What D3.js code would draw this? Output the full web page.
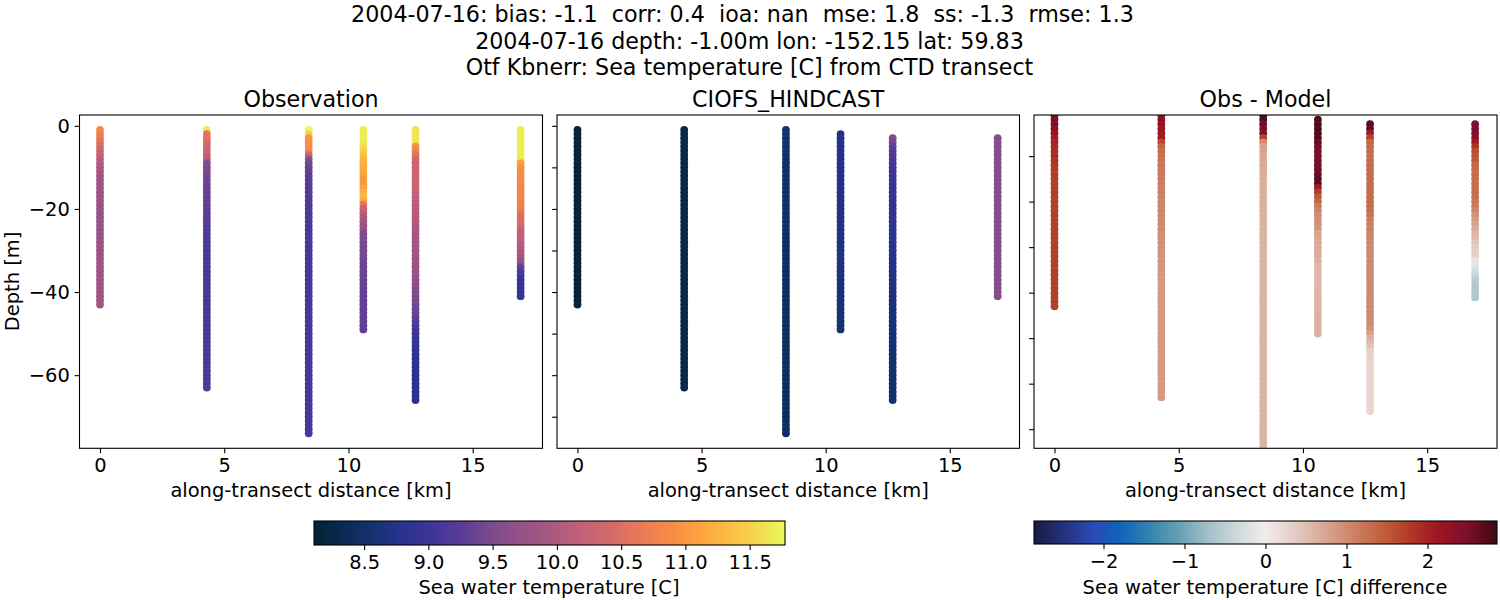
<!DOCTYPE html>
<html>
<head>
<meta charset="utf-8">
<script src="https://cdn.jsdelivr.net/npm/d3@7"></script>
<style>
  body { margin: 0; background: white; }
  svg text { font-family: "DejaVu Sans", sans-serif; fill: black; white-space: pre; }
</style>
</head>
<body>
<svg id="fig" width="1500" height="600"></svg>
<script>
// first line has trailing blanks in the original title, which pushes it left
var titleLines = [
  "2004-07-16: bias: -1.1  corr: 0.4  ioa: nan  mse: 1.8  ss: -1.3  rmse: 1.3  ",
  "2004-07-16 depth: -1.00m lon: -152.15 lat: 59.83",
  "Otf Kbnerr: Sea temperature [C] from CTD transect"
];
var panelTitles = ["Observation", "CIOFS_HINDCAST", "Obs - Model"];

// along-transect distance of each CTD cast [km]
var stations = [0, 4.3, 8.4, 10.6, 12.7, 16.93];
var obsFirstDepth = [1, 1, 1, 1, 1, 1];
var modFirstDepth = [1, 1, 1, 2, 3, 3];

// observed temperature per cast, 1 m bins from the surface
var obs0 = [10.85,10.75,10.65,10.55,10.45,10.35,10.25,10.15,10.1,10.0,9.95,9.9,9.85,9.85,9.85,9.8,9.8,9.8,9.78,9.78,9.75,9.75,9.75,9.75,9.75,9.75,9.78,9.78,9.8,9.8,9.8,9.8,9.8,9.82,9.82,9.82,9.85,9.85,9.85,9.85,9.85,9.85,9.85];
var obs1 = [11.7,10.6,10.55,10.45,10.35,10.3,10.2,10.1,9.6,9.5,9.5,9.45,9.42,9.4,9.38,9.35,9.35,9.32,9.3,9.3,9.28,9.26,9.24,9.22,9.2,9.2,9.18,9.18,9.16,9.16,9.15,9.15,9.14,9.14,9.13,9.13,9.12,9.12,9.12,9.12,9.12,9.12,9.12,9.12,9.13,9.13,9.13,9.13,9.14,9.14,9.14,9.14,9.15,9.15,9.15,9.15,9.15,9.15,9.16,9.16,9.16,9.18,9.2];
var obs2 = [11.75,11.5,11.0,10.95,10.9,10.85,10.3,9.65,9.45,9.38,9.34,9.3,9.28,9.26,9.24,9.22,9.2,9.2,9.18,9.18,9.16,9.16,9.15,9.15,9.14,9.14,9.13,9.13,9.12,9.12,9.12,9.12,9.12,9.12,9.12,9.12,9.12,9.12,9.12,9.12,9.12,9.12,9.12,9.12,9.12,9.12,9.12,9.12,9.12,9.12,9.12,9.12,9.12,9.12,9.12,9.12,9.12,9.12,9.12,9.12,9.12,9.12,9.12,9.12,9.12,9.12,9.12,9.12,9.12,9.12,9.12,9.12,9.12,9.12];
var obs3 = [11.7,11.7,11.7,11.7,11.6,11.5,11.4,11.3,11.25,11.2,11.15,11.1,11.0,11.0,11.1,11.25,11.3,11.2,10.6,10.3,10.15,10.0,9.95,9.8,9.7,9.55,9.5,9.5,9.48,9.45,9.45,9.45,9.42,9.4,9.4,9.38,9.38,9.36,9.35,9.34,9.33,9.32,9.3,9.3,9.3,9.3,9.3,9.3,9.3];
var obs4 = [11.65,11.65,11.65,11.65,10.95,10.8,10.6,10.4,10.32,10.3,10.3,10.3,10.28,10.28,10.25,10.22,10.2,10.15,10.12,10.1,10.08,10.05,10.02,10.0,9.98,9.95,9.92,9.9,9.9,9.88,9.86,9.84,9.82,9.8,9.8,9.78,9.72,9.68,9.62,9.58,9.54,9.5,9.46,9.42,9.38,9.32,9.25,9.18,9.1,9.02,8.98,8.95,8.92,8.88,8.86,8.84,8.82,8.8,8.8,8.8,8.8,8.8,8.8,8.8,8.8,8.8];
var obs5 = [11.7,11.7,11.7,11.7,11.7,11.7,11.7,11.7,11.1,10.95,10.9,10.88,10.86,10.85,10.83,10.82,10.8,10.78,10.76,10.75,10.6,10.48,10.45,10.42,10.25,10.2,10.15,10.1,10.05,10.0,9.95,9.85,9.8,9.35,9.2,9.1,8.97,8.95,8.93,8.92,8.9];
var obsValues = [obs0, obs1, obs2, obs3, obs4, obs5];

// model temperature per cast
var mod0 = [8.15,8.15,8.15,8.15,8.15,8.15,8.15,8.15,8.15,8.15,8.15,8.15,8.15,8.15,8.15,8.15,8.15,8.15,8.15,8.15,8.15,8.15,8.15,8.15,8.15,8.15,8.15,8.15,8.15,8.15,8.15,8.15,8.15,8.15,8.15,8.15,8.15,8.15,8.15,8.15,8.15,8.15,8.15];
var mod1 = [8.27,8.27,8.27,8.27,8.27,8.27,8.27,8.27,8.27,8.27,8.27,8.27,8.27,8.27,8.27,8.27,8.27,8.27,8.27,8.27,8.28,8.28,8.28,8.28,8.28,8.28,8.28,8.28,8.28,8.28,8.28,8.28,8.28,8.28,8.28,8.28,8.28,8.28,8.28,8.28,8.28,8.28,8.28,8.28,8.28,8.28,8.28,8.28,8.28,8.28,8.28,8.28,8.28,8.28,8.28,8.28,8.28,8.28,8.28,8.28,8.28,8.28,8.28];
var mod2 = [8.6,8.6,8.58,8.58,8.56,8.56,8.55,8.54,8.53,8.52,8.52,8.52,8.5,8.5,8.5,8.5,8.5,8.5,8.5,8.5,8.5,8.5,8.5,8.5,8.5,8.48,8.48,8.48,8.48,8.48,8.48,8.48,8.48,8.48,8.48,8.48,8.48,8.48,8.48,8.48,8.46,8.46,8.46,8.46,8.46,8.46,8.46,8.46,8.46,8.46,8.46,8.46,8.46,8.46,8.46,8.45,8.45,8.45,8.45,8.45,8.45,8.45,8.45,8.45,8.45,8.45,8.45,8.45,8.45,8.45,8.45,8.45,8.45,8.45];
var mod3 = [8.75,8.75,8.75,8.75,8.75,8.75,8.75,8.75,8.74,8.74,8.74,8.74,8.74,8.74,8.74,8.72,8.72,8.72,8.72,8.72,8.72,8.72,8.72,8.72,8.72,8.7,8.7,8.7,8.7,8.7,8.7,8.68,8.68,8.68,8.68,8.66,8.66,8.66,8.65,8.65,8.64,8.62,8.62,8.6,8.6,8.6,8.6,8.6];
var mod4 = [9.55,9.45,9.35,9.25,9.2,9.15,9.1,9.05,9.02,9.0,8.98,8.96,8.94,8.92,8.9,8.9,8.88,8.88,8.87,8.86,8.85,8.85,8.85,8.84,8.83,8.82,8.81,8.8,8.78,8.76,8.74,8.73,8.72,8.71,8.7,8.69,8.68,8.67,8.66,8.65,8.64,8.63,8.62,8.62,8.61,8.61,8.6,8.6,8.6,8.6,8.59,8.59,8.58,8.58,8.58,8.58,8.58,8.58,8.57,8.57,8.57,8.57,8.57,8.57];
var mod5 = [9.6,9.6,9.6,9.6,9.6,9.6,9.6,9.6,9.6,9.6,9.6,9.6,9.6,9.6,9.6,9.6,9.6,9.6,9.6,9.6,9.6,9.6,9.6,9.6,9.6,9.6,9.6,9.6,9.6,9.6,9.6,9.6,9.6,9.6,9.6,9.6,9.6,9.6,9.6];
var modValues = [mod0, mod1, mod2, mod3, mod4, mod5];

// obs minus model per cast
var dif0 = [2.45,2.45,2.45,2.4,2.2,2.1,2.0,1.95,1.9,1.9,1.85,1.8,1.8,1.75,1.75,1.72,1.72,1.72,1.72,1.72,1.72,1.72,1.72,1.72,1.72,1.72,1.72,1.72,1.72,1.72,1.72,1.72,1.72,1.72,1.72,1.72,1.72,1.72,1.72,1.72,1.72,1.72,1.72];
var dif1 = [2.35,2.3,2.2,2.15,2.1,2.1,1.65,1.4,1.3,1.25,1.2,1.2,1.18,1.16,1.15,1.14,1.12,1.1,1.08,1.06,1.05,1.05,1.03,1.02,1.0,0.98,0.97,0.95,0.94,0.93,0.92,0.9,0.9,0.88,0.87,0.86,0.85,0.85,0.85,0.85,0.85,0.85,0.85,0.85,0.85,0.85,0.85,0.85,0.85,0.85,0.85,0.85,0.85,0.85,0.85,0.85,0.85,0.85,0.85,0.85,0.85,0.85,0.85];
var dif2 = [2.8,2.75,2.55,2.5,2.45,1.7,1.0,0.78,0.75,0.72,0.7,0.7,0.68,0.68,0.66,0.66,0.65,0.65,0.65,0.65,0.64,0.64,0.63,0.63,0.62,0.62,0.62,0.62,0.62,0.62,0.6,0.6,0.6,0.6,0.6,0.6,0.6,0.6,0.6,0.6,0.6,0.6,0.6,0.6,0.6,0.6,0.6,0.6,0.6,0.6,0.6,0.6,0.6,0.6,0.6,0.6,0.6,0.6,0.6,0.6,0.6,0.6,0.6,0.6,0.6,0.6,0.6,0.6,0.6,0.6,0.6,0.6,0.6,0.6];
var dif3 = [2.75,2.75,2.75,2.75,2.72,2.6,2.55,2.5,2.5,2.5,2.5,2.52,2.6,2.65,2.65,2.1,1.75,1.5,1.4,1.15,1.1,0.98,0.95,0.92,0.9,0.75,0.72,0.7,0.68,0.68,0.66,0.65,0.58,0.55,0.55,0.55,0.56,0.56,0.58,0.58,0.6,0.6,0.6,0.62,0.62,0.62,0.62,0.62];
var dif4 = [2.65,2.65,2.1,1.75,1.35,1.32,1.3,1.3,1.3,1.3,1.3,1.3,1.3,1.3,1.3,1.3,1.3,1.3,1.3,1.28,1.22,1.15,1.1,1.08,1.06,1.05,1.03,1.02,1.0,1.0,1.0,1.0,1.0,1.0,1.0,1.0,1.0,1.0,1.0,1.0,1.0,1.0,1.0,1.0,1.0,0.95,0.8,0.65,0.55,0.45,0.35,0.3,0.28,0.27,0.26,0.25,0.25,0.25,0.25,0.25,0.25,0.25,0.25,0.25];
var dif5 = [2.45,2.45,2.45,2.42,2.1,1.85,1.6,1.55,1.5,1.35,1.32,1.3,1.3,1.3,1.3,1.3,1.28,1.22,1.15,1.05,0.95,0.85,0.75,0.68,0.6,0.55,0.45,0.38,0.35,0.35,0.1,-0.1,-0.25,-0.35,-0.5,-0.55,-0.6,-0.6,-0.6];
var difValues = [dif0, dif1, dif2, dif3, dif4, dif5];

// cmocean thermal / balance, sampled from the colourbars
var thermalStops = ["#042333","#0a2b52","#15306f","#2a3390","#3e3599","#5a3c96","#7a4a8e","#94528a","#a8587f","#c0607a","#d26a6b","#e8775a","#f68a47","#fca03f","#fcbb41","#f6d64f","#e8fa5b"];
var balanceStops = ["#181c43","#24307c","#2b48b4","#0f65ba","#3583ae","#66a0b2","#a0bfc8","#ced8db","#f1ecec","#e4cdc5","#d9a894","#cd8468","#c2603e","#b03a25","#9c1525","#7a0f2a","#3c0911"];

var depthTicks = [0, -20, -40, -60];
var depthMinor = [0, -10, -20, -30, -40, -50, -60, -70];
var diffDepthTicks = [-10, -20, -30, -40, -50, -60, -70];
var distTicks = [0, 5, 10, 15];
var tempTicks = [8.5, 9, 9.5, 10, 10.5, 11, 11.5];
var diffTicks = [-2, -1, 0, 1, 2];
var tempRange = [8.11, 11.775];
var diffRange = [-2.858, 2.858];

var svg = d3.select("#fig");
var minus = s => String(s).replace("-", "\u2212");
var top_ = 115, bottom = 448.3;
var labelSize = "19.44px", titleSize = "22.2px";

var thermal = d3.scaleLinear().domain(d3.range(17).map(i => tempRange[0] + (tempRange[1] - tempRange[0]) * i / 16)).range(thermalStops).clamp(true);
var balance = d3.scaleLinear().domain(d3.range(17).map(i => diffRange[0] + (diffRange[1] - diffRange[0]) * i / 16)).range(balanceStops).clamp(true);

svg.append("g").selectAll("text").data(titleLines).enter().append("text")
  .attr("x", 749.5).attr("y", (d, i) => 22.3 + i * 26.5)
  .attr("text-anchor", "middle").style("font-size", titleSize).text(d => d);

var panels = [
  { left: 79.5, right: 542.5, values: obsValues, first: obsFirstDepth, color: thermal, yDomain: [2.6, -77.6], ticks: depthTicks, labels: true },
  { left: 557, right: 1019.5, values: modValues, first: modFirstDepth, color: thermal, yDomain: [2.6, -77.6], ticks: depthMinor, labels: false },
  { left: 1034, right: 1497, values: difValues, first: modFirstDepth, color: balance, yDomain: [-0.97, -74.2], ticks: diffDepthTicks, labels: false }
];

panels.forEach(function (p, n) {
  var x = d3.scaleLinear().domain([-0.825, 17.81]).range([p.left, p.right]);
  var y = d3.scaleLinear().domain(p.yDomain).range([top_, bottom]);
  var g = svg.append("g");

  g.append("clipPath").attr("id", "clip" + n).append("rect")
    .attr("x", p.left).attr("y", top_).attr("width", p.right - p.left).attr("height", bottom - top_);

  var dots = g.append("g").attr("clip-path", "url(#clip" + n + ")");
  stations.forEach(function (km, s) {
    // deeper samples sit on top of the shallower ones
    dots.append("g").selectAll("circle").data(p.values[s]).enter().append("circle")
      .attr("cx", x(km))
      .attr("cy", (d, i) => y(-(p.first[s] + i)))
      .attr("r", 3.9)
      .attr("fill", d => p.color(d));
  });

  var xAxis = g.append("g").attr("transform", "translate(0," + bottom + ")")
    .call(d3.axisBottom(x).tickValues(distTicks).tickSize(4.9).tickPadding(4.8));
  var yAxis = g.append("g").attr("transform", "translate(" + p.left + ",0)")
    .call(d3.axisLeft(y).tickValues(p.ticks).tickSize(4.9).tickPadding(4.8)
      .tickFormat(p.labels ? minus : ""));
  [xAxis, yAxis].forEach(function (a) {
    a.select(".domain").remove();
    a.selectAll("line").attr("stroke", "black").attr("stroke-width", 1.1);
    a.selectAll("text").style("font-size", labelSize).attr("font-family", null);
  });

  g.append("rect").attr("x", p.left).attr("y", top_).attr("width", p.right - p.left).attr("height", bottom - top_)
    .attr("fill", "none").attr("stroke", "black").attr("stroke-width", 1.1);

  g.append("text").attr("x", (p.left + p.right) / 2).attr("y", 107)
    .attr("text-anchor", "middle").style("font-size", titleSize).text(panelTitles[n]);
  g.append("text").attr("x", (p.left + p.right) / 2).attr("y", 497)
    .attr("text-anchor", "middle").style("font-size", labelSize).text("along-transect distance [km]");
});

svg.append("text").attr("transform", "translate(18.5,281.5) rotate(-90)")
  .attr("text-anchor", "middle").style("font-size", labelSize).text("Depth [m]");

function colorbar(id, left, right, cTop, cBottom, range, color, ticks, label) {
  var x = d3.scaleLinear().domain(range).range([left, right]);
  var g = svg.append("g");
  var grad = svg.append("defs").append("linearGradient").attr("id", id);
  d3.range(65).forEach(function (i) {
    grad.append("stop").attr("offset", (i / 64 * 100) + "%")
      .attr("stop-color", color(range[0] + (range[1] - range[0]) * i / 64));
  });
  g.append("rect").attr("x", left).attr("y", cTop).attr("width", right - left).attr("height", cBottom - cTop)
    .attr("fill", "url(#" + id + ")").attr("stroke", "black").attr("stroke-width", 1.1);
  var axis = g.append("g").attr("transform", "translate(0," + cBottom + ")")
    .call(d3.axisBottom(x).tickValues(ticks).tickSize(4.9).tickPadding(4.8)
      .tickFormat(id == "cbDiff" ? minus : d3.format(".1f")));
  axis.select(".domain").remove();
  axis.selectAll("line").attr("stroke", "black").attr("stroke-width", 1.1);
  axis.selectAll("text").style("font-size", labelSize).attr("font-family", null);
  g.append("text").attr("x", (left + right) / 2 - 0.5).attr("y", 593.5)
    .attr("text-anchor", "middle").style("font-size", labelSize).text(label);
}

colorbar("cbTemp", 314, 785, 521, 545, tempRange, thermal, tempTicks, "Sea water temperature [C]");
colorbar("cbDiff", 1034, 1497, 521, 544, diffRange, balance, diffTicks, "Sea water temperature [C] difference");
</script>
</body>
</html>
